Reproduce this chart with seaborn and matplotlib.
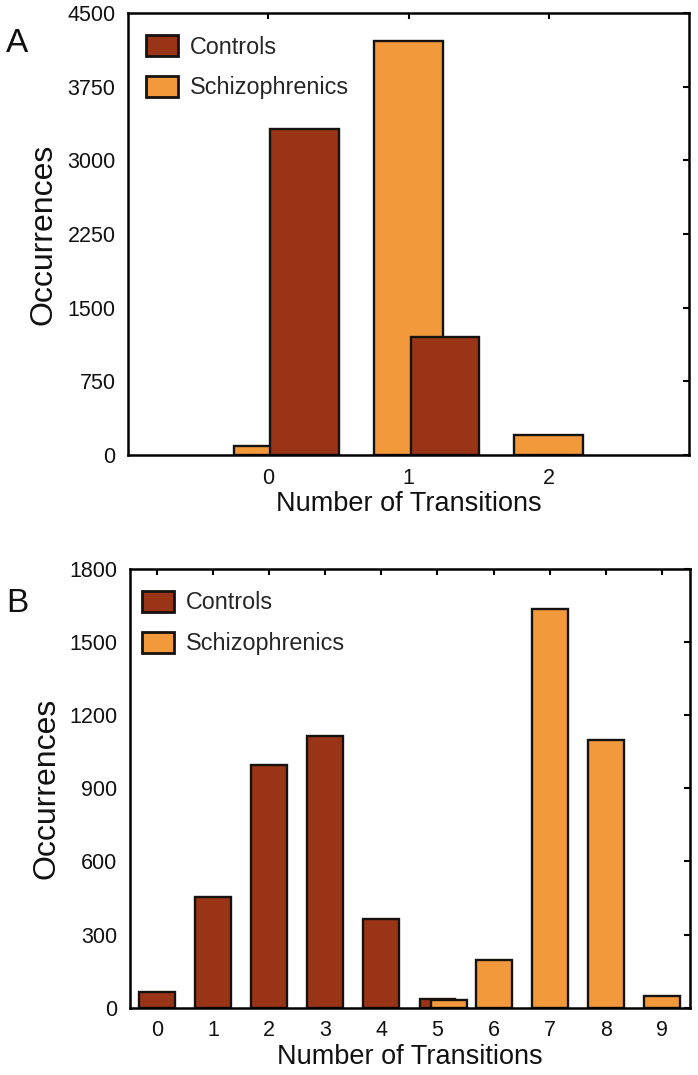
import numpy as np
import matplotlib
matplotlib.use("Agg")
import matplotlib.pyplot as plt
from matplotlib.patches import Patch
import seaborn as sns

# ---------------- data ----------------
# Panel A
a_controls_x = [0, 1]
a_controls = [3320, 1198]
a_schizo_x = [0, 1, 2]
a_schizo = [92, 4212, 200]
a_xticks = [0, 1, 2]
a_yticks = [0, 750, 1500, 2250, 3000, 3750, 4500]

# Panel B
b_controls_x = [0, 1, 2, 3, 4, 5]
b_controls = [66, 453, 995, 1113, 365, 36]
b_schizo_x = [5, 6, 7, 8, 9]
b_schizo = [33, 197, 1637, 1097, 48]
b_xticks = [0, 1, 2, 3, 4, 5, 6, 7, 8, 9]
b_yticks = [0, 300, 600, 900, 1200, 1500, 1800]

labels = ["Controls", "Schizophrenics"]

# ---------------- style ----------------
C_CTRL = "#9A3417"
C_SCHZ = "#F29A3B"
EDGE = "#161210"

sns.set_theme(style="white")
plt.rcParams["font.family"] = ["Liberation Sans", "DejaVu Sans"]

fig = plt.figure(figsize=(6.98, 10.75), dpi=100)
axA = fig.add_axes([0.1834, 0.5767, 0.8037, 0.4112])
axB = fig.add_axes([0.1862, 0.0626, 0.8023, 0.4081])


def draw(ax, pos, vals, width, color):
    pos = np.asarray(pos, dtype=float)
    spacing = np.diff(np.unique(pos)).min() if len(np.unique(pos)) > 1 else 1.0
    sns.barplot(x=pos, y=vals, native_scale=True, orient="x",
                width=width / spacing, color=color, saturation=1,
                edgecolor=EDGE, linewidth=1.7, errorbar=None, ax=ax)


# Panel A: schizophrenics behind, controls shifted right on top
draw(axA, a_schizo_x, a_schizo, 0.49, C_SCHZ)
draw(axA, np.asarray(a_controls_x) + 0.26, a_controls, 0.49, C_CTRL)

# Panel B: controls first, schizophrenics on top (bin 5 shifted right)
draw(axB, b_controls_x, b_controls, 0.64, C_CTRL)
b_sx = np.asarray(b_schizo_x, dtype=float)
b_sx = np.where(b_sx == 5, b_sx + 0.21, b_sx)
draw(axB, b_sx, b_schizo, 0.64, C_SCHZ)


def style(ax, xticks, yticks, xlim, letter, lx, ly, legend_anchor):
    ax.set_xlim(*xlim)
    ax.set_ylim(yticks[0], yticks[-1])
    ax.set_xticks(xticks)
    ax.set_xticklabels([str(t) for t in xticks])
    ax.set_yticks(yticks)
    ax.set_yticklabels([str(t) for t in yticks])
    for s in ax.spines.values():
        s.set_visible(True)
        s.set_linewidth(1.8)
        s.set_color("black")
    ax.tick_params(axis="both", which="both", direction="in", length=4.5,
                   width=1.5, color="black", top=True, right=True,
                   labelsize=15.5, labelcolor="#111111")
    ax.tick_params(axis="x", pad=9)
    ax.tick_params(axis="y", pad=9)
    ax.set_xlabel("Number of Transitions", fontsize=19.5, labelpad=2,
                  color="#111111")
    ax.set_ylabel("Occurrences", fontsize=23, labelpad=6, color="#111111")
    handles = [Patch(facecolor=C_CTRL, edgecolor=EDGE, linewidth=2),
               Patch(facecolor=C_SCHZ, edgecolor=EDGE, linewidth=2)]
    ax.legend(handles, labels, loc="upper left", bbox_to_anchor=legend_anchor,
              frameon=False, fontsize=16.8, handlelength=1.38,
              handleheight=1.0, handletextpad=0.5, labelspacing=0.75,
              borderpad=0, borderaxespad=0)
    fig.text(lx, ly, letter, fontsize=24, color="#111111", ha="left",
             va="baseline")


style(axA, a_xticks, a_yticks, (-1.0, 3.0), "A", 0.009, 1 - 52 / 1075,
      (0.032, 0.95))
style(axB, b_xticks, b_yticks, (-0.48, 9.5), "B", 0.009, 1 - 612 / 1075,
      (0.022, 0.95))

fig.savefig("out.png", dpi=100)
